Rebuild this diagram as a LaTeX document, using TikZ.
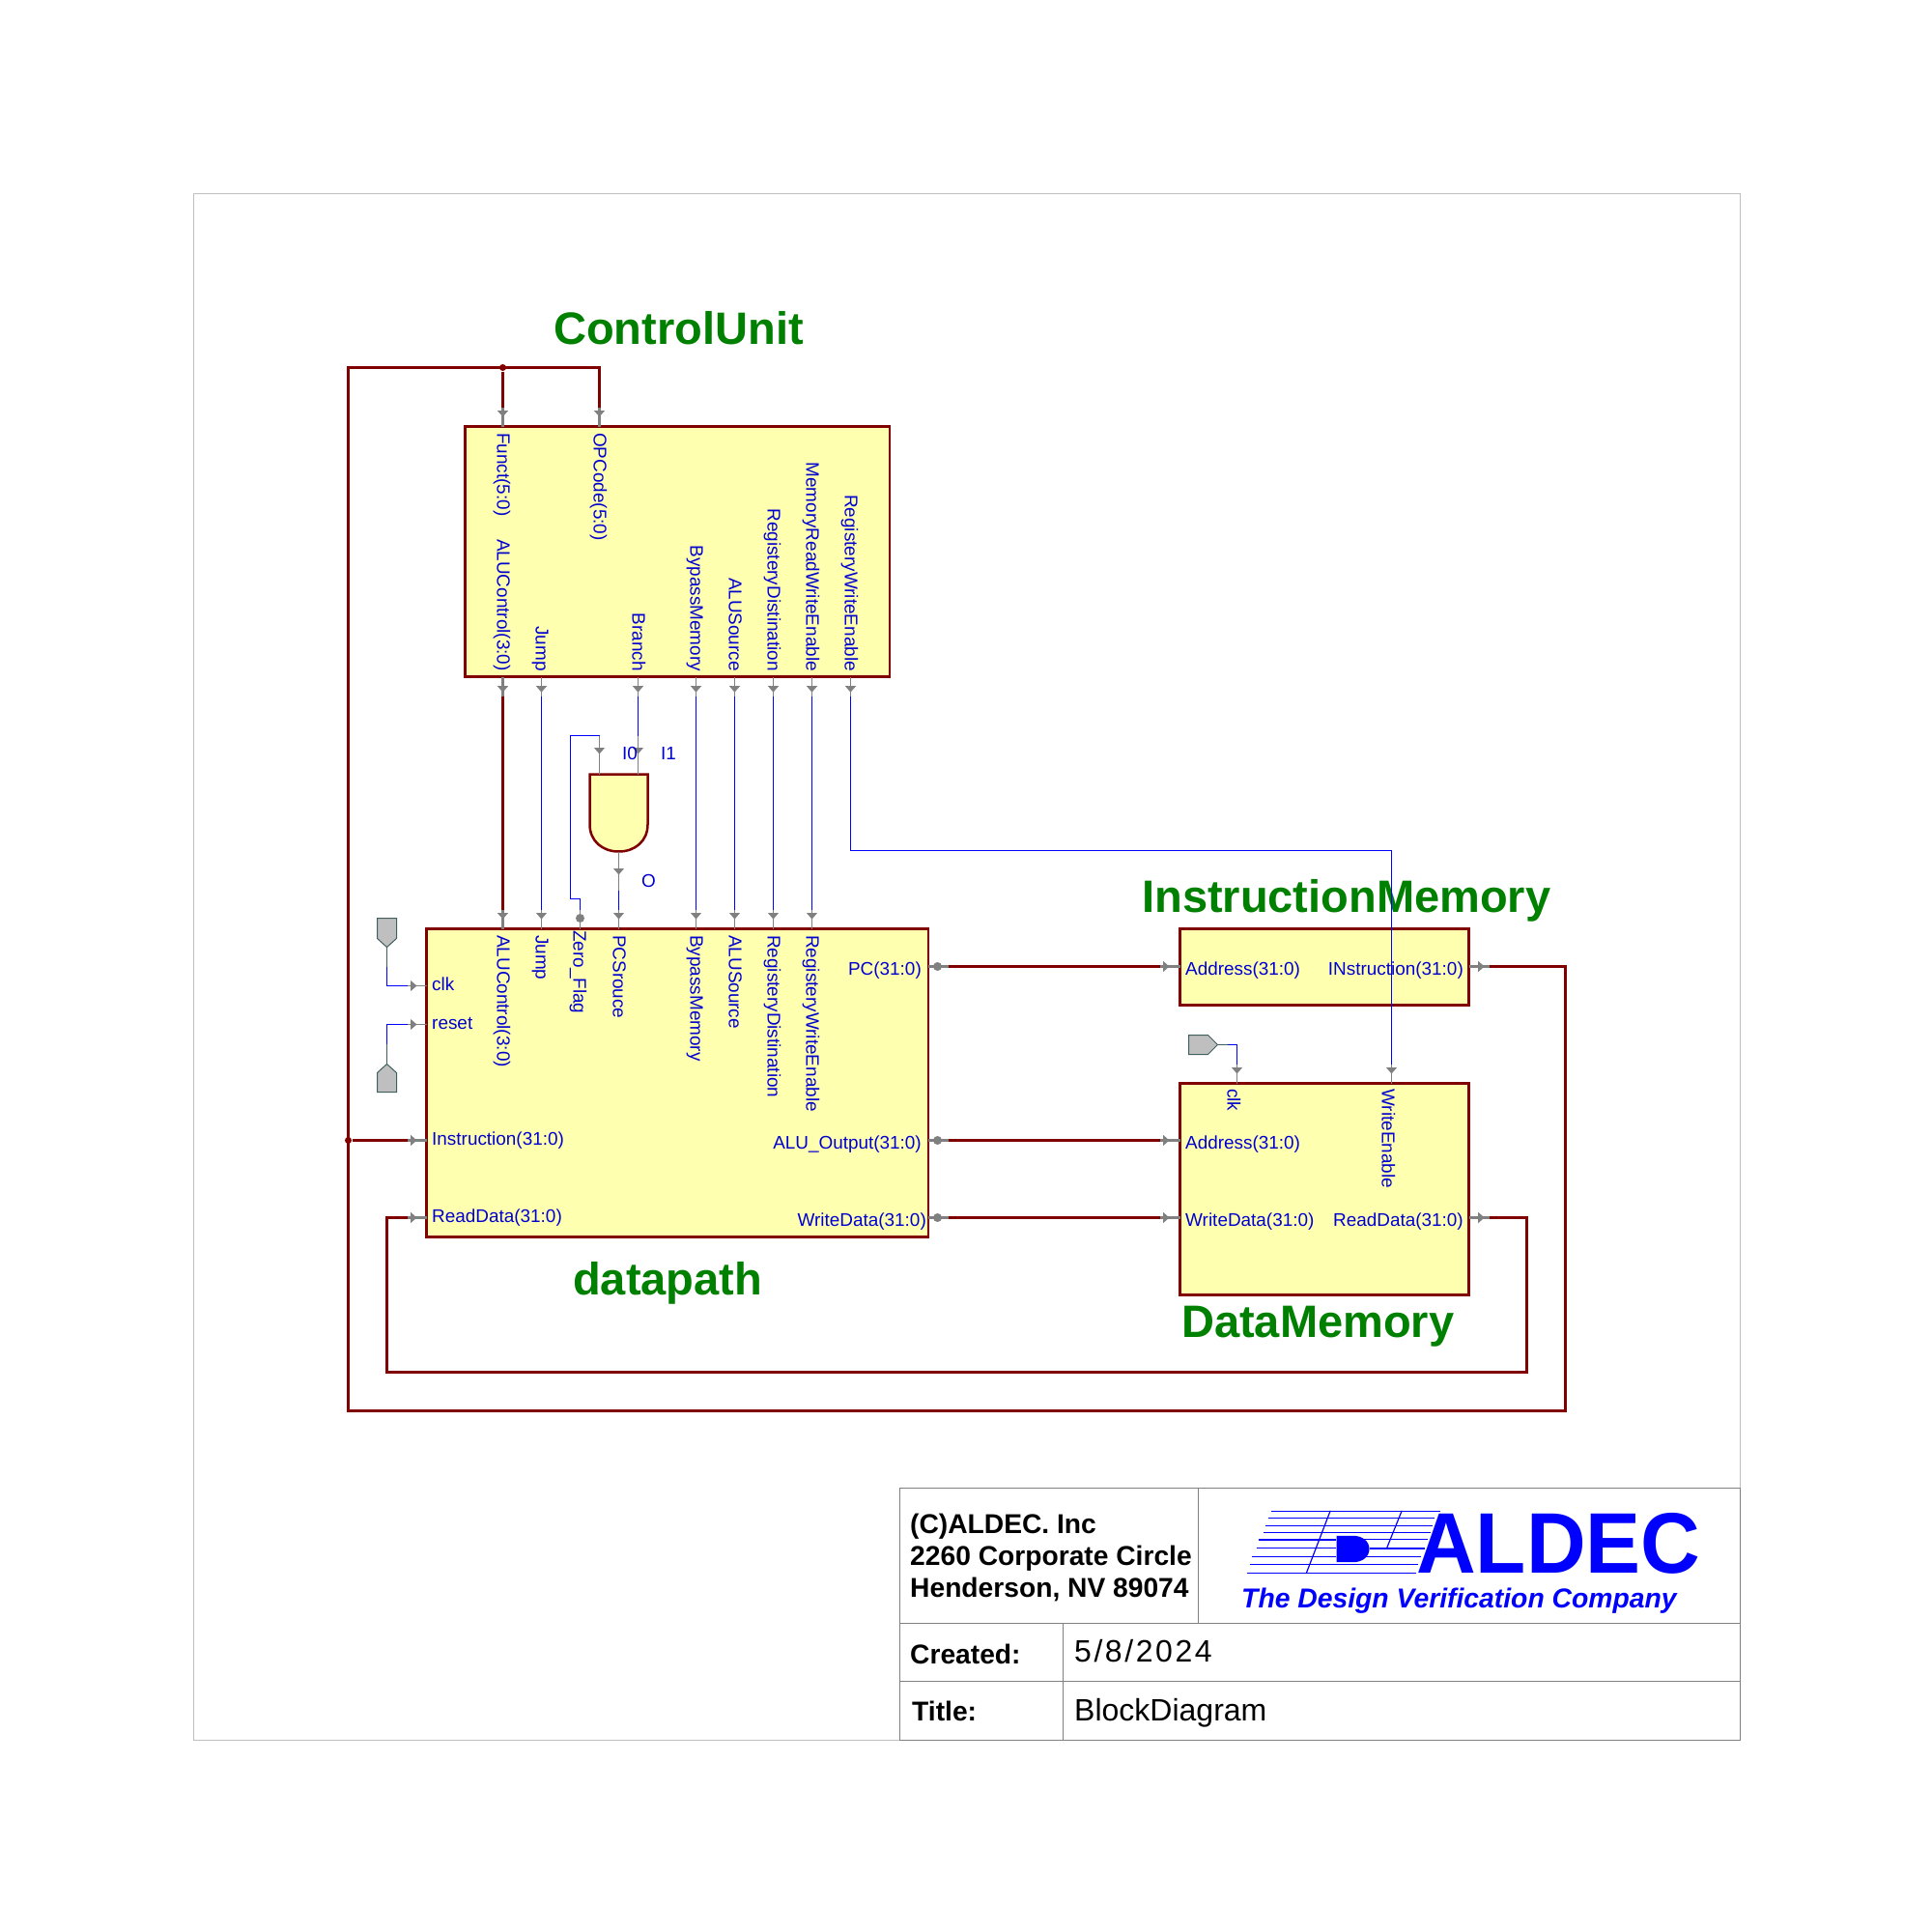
\documentclass[tikz,border=0pt]{standalone}
\usepackage{fontspec}
\setmainfont{Liberation Sans}
\newfontfamily\datefont[LetterSpace=8]{Liberation Sans}
\usetikzlibrary{arrows.meta}
\usetikzlibrary{decorations.markings}
\definecolor{wirered}{HTML}{800000}
\definecolor{wireblue}{HTML}{0000FF}
\definecolor{textblue}{HTML}{0000D0}
\definecolor{titlegreen}{HTML}{008000}
\definecolor{blockfill}{HTML}{FFFFB0}
\definecolor{pingray}{HTML}{808080}
\definecolor{symedge}{HTML}{406060}
\tikzset{block/.style={draw=wirered,fill=blockfill,line width=.025cm,
                       anchor=north west,inner sep=0pt,outer sep=0pt}}
\tikzset{stub/.style={draw=pingray,line width=.01cm,postaction={decorate},
                      decoration={markings,mark=at position #1 with
                      {\arrow[pingray]{Triangle[length=.065cm,width=.11cm]}}}},
         stub/.default=.1cm}
\tikzset{busstub/.style={stub=#1,line width=.03cm},busstub/.default=.1cm}
\tikzset{outstub/.style={stub=.16cm}}
\tikzset{busout/.style={busstub=.16cm}}
\tikzset{bus/.style={draw=wirered,line width=.03cm}}
\tikzset{wire/.style={draw=wireblue,line width=.01cm}}
\tikzset{portdot/.style={circle,fill=pingray,inner sep=0pt,minimum size=.09cm}}
\tikzset{joint/.style={circle,fill=wirered,inner sep=0pt,minimum size=.07cm}}
\tikzset{portlabel/.style={text=textblue,inner sep=0pt,text height=3.85pt,text depth=0pt,
                           font=\fontsize{5.38pt}{6pt}\selectfont}}
\tikzset{downlabel/.style={portlabel,rotate=-90}}
\tikzset{blocktitle/.style={text=titlegreen,inner sep=0pt,anchor=base west,
                            font=\fontsize{13.37pt}{15pt}\selectfont\bfseries}}
\tikzset{symbol/.style={draw=symedge,fill=black!25,line width=.01cm}}
\tikzset{infotext/.style={inner sep=0pt,anchor=base west,
                          font=\fontsize{8.02pt}{9pt}\selectfont\bfseries}}
\tikzset{infovalue/.style={inner sep=0pt,anchor=base west,
                           font=\fontsize{9.1pt}{10pt}\selectfont}}
\begin{document}
\begin{tikzpicture}
      [
      x=.01cm,y=-.01cm,
      ]
      \useasboundingbox (-.5,-.5) rectangle (1999.5,1999.5);

      % sheet frame
      \draw [black!25,line width=.01cm] (200,200) rectangle (1801,1801);

      % blocks
      \node [block,minimum width=4.39cm,minimum height=2.59cm] (CU) at (481,441) {};
      \node [block,minimum width=5.19cm,minimum height=3.19cm] (DP) at (441,961) {};
      \node [block,minimum width=2.99cm,minimum height=.79cm] (IM) at (1221,961) {};
      \node [block,minimum width=2.99cm,minimum height=2.19cm] (DM) at (1221,1121) {};

      % titles
      \node [blocktitle] (CUtitle) at (572,356) {ControlUnit};
      \node [blocktitle] (DPtitle) at (592,1340) {datapath};
      \node [blocktitle] (IMtitle) at (1181,944) {InstructionMemory};
      \node [blocktitle] (DMtitle) at (1222,1384) {DataMemory};

      % and gate
      \draw [draw=wirered,fill=blockfill,line width=.025cm]
      (610,801) -- (670,801) -- (670,853) .. controls (670,870) and (657,881) .. (640,881)
      .. controls (623,881) and (610,870) .. (610,853) -- cycle;
      \coordinate (gateI0) at (620,761);
      \coordinate (gateI1) at (660,761);
      \coordinate (gateO) at (640,921);
      \draw [stub=.19cm] (gateI0) -- (620,801);
      \draw [stub=.19cm] (gateI1) -- (660,801);
      \draw [stub=.24cm] (640,881) -- (gateO);
      \node [portlabel,anchor=west] (labelI0) at (643,779) {I0};
      \node [portlabel,anchor=west] (labelI1) at (683,779) {I1};
      \node [portlabel,anchor=west] (labelO) at (663,911) {O};

      % control unit, top pins
      \foreach \n/\x/\s/\l in
      {
      cuFunct/520/busstub/Funct(5:0),
      cuOPCode/620/busstub/OPCode(5:0)
      }
      {
      \coordinate (\n) at (\x,421);
      \draw [\s] (\n) -- (\n |- CU.north);
      \node [downlabel,anchor=west] (\n label) at (\x+1,447) {\l};
      }

      % control unit, bottom pins
      \foreach \n/\x/\s/\l in
      {
      cuALU/520/busout/ALUControl(3:0),
      cuJump/560/outstub/Jump,
      cuBranch/660/outstub/Branch,
      cuBypass/720/outstub/BypassMemory,
      cuSource/760/outstub/ALUSource,
      cuDist/800/outstub/RegisteryDistination,
      cuMem/840/outstub/MemoryReadWriteEnable,
      cuWrite/880/outstub/RegisteryWriteEnable
      }
      {
      \coordinate (\n) at (\x,720);
      \draw [\s] (\n |- CU.south) -- (\n);
      \node [downlabel,anchor=east] (\n label) at (\x+1,695) {\l};
      }

      % datapath, top pins
      \foreach \n/\x/\s/\l in
      {
      dpALU/520/busstub/ALUControl(3:0),
      dpJump/560/stub/Jump,
      dpPC/640/stub/PCSrouce,
      dpBypass/720/stub/BypassMemory,
      dpSource/760/stub/ALUSource,
      dpDist/800/stub/RegisteryDistination,
      dpWrite/840/stub/RegisteryWriteEnable
      }
      {
      \coordinate (\n) at (\x,941);
      \draw [\s] (\n) -- (\n |- DP.north);
      \node [downlabel,anchor=west] (\n label) at (\x+1,967) {\l};
      }
      \coordinate (dpZero) at (600,941);
      \draw [draw=pingray,line width=.01cm] (dpZero) -- (dpZero |- DP.north);
      \node [portdot] (dpZeroDot) at (600,950) {};
      \node [downlabel,anchor=west] (dpZero label) at (600,962) {Zero\_Flag};

      % datapath, left pins
      \foreach \n/\y/\s/\l in
      {
      dpClk/1020/stub/clk,
      dpReset/1060/stub/reset,
      dpInstr/1180/busstub/Instruction(31:0),
      dpRead/1260/busstub/ReadData(31:0)
      }
      {
      \coordinate (\n) at (421,\y);
      \draw [\s] (\n) -- (\n -| DP.west);
      \node [portlabel,anchor=west] (\n label) at (446,\y-2) {\l};
      }

      % datapath, right pins
      \foreach \n/\y/\e/\l in
      {
      dpOutPC/1000/954/PC(31:0),
      dpOutALU/1180/954/ALU\_Output(31:0),
      dpOutData/1260/959/WriteData(31:0)
      }
      {
      \coordinate (\n) at (981,\y);
      \draw [draw=pingray,line width=.03cm] (\n -| DP.east) -- (\n);
      \node [portdot] (\n dot) at (970,\y) {};
      \node [portlabel,anchor=east] (\n label) at (\e,\y+2) {\l};
      }

      % memories, left pins
      \foreach \n/\y/\l in
      {
      imAddr/1000/Address(31:0),
      dmAddr/1180/Address(31:0),
      dmData/1260/WriteData(31:0)
      }
      {
      \coordinate (\n) at (1200,\y);
      \draw [busstub] (\n) -- (\n -| IM.west);
      \node [portlabel,anchor=west] (\n label) at (1226,\y+2) {\l};
      }

      % memories, right pins
      \foreach \n/\y/\l in
      {
      imOut/1000/INstruction(31:0),
      dmOut/1260/ReadData(31:0)
      }
      {
      \coordinate (\n) at (1541,\y);
      \draw [busout] (\n -| IM.east) -- (\n);
      \node [portlabel,anchor=east] (\n label) at (1515,\y+2) {\l};
      }

      % data memory, top pins
      \foreach \n/\x/\l in
      {
      dmClk/1280/clk,
      dmWE/1440/WriteEnable
      }
      {
      \coordinate (\n) at (\x,1101);
      \draw [stub] (\n) -- (\n |- DM.north);
      \node [downlabel,anchor=west] (\n label) at (\x-3,1126) {\l};
      }

      % port symbols
      \coordinate (clkTip) at (400,980);
      \coordinate (resetTip) at (400,1101);
      \coordinate (memTip) at (1260,1081);
      \draw [symbol] (clkTip) -- (390,971) -- (390,950) -- (410,950) -- (410,971) -- cycle;
      \draw [symbol] (resetTip) -- (390,1110) -- (390,1130) -- (410,1130) -- (410,1110) -- cycle;
      \draw [symbol] (memTip) -- (1250,1071) -- (1230,1071) -- (1230,1091) -- (1250,1091) -- cycle;

      % single wires
      \foreach \a/\b in
      {
      cuJump/dpJump,cuBypass/dpBypass,cuSource/dpSource,cuDist/dpDist,cuMem/dpWrite,
      gateO/dpPC,cuBranch/gateI1%
      }
      {
      \draw [wire] (\a) -- (\b);
      }
      \draw [wire] (clkTip) |- (dpClk);
      \draw [wire] (resetTip) |- (dpReset);
      \draw [wire] (memTip) -| (dmClk);
      \draw [wire] (dpZero) -- ++(0,-11) -- ++(-10,0) |- (gateI0);
      \draw [wire] (cuWrite) -- ++(0,160) -| (dmWE);
      \draw [draw=symedge,line width=.01cm] (clkTip) -- ++(0,20);
      \draw [draw=symedge,line width=.01cm] (resetTip) -- ++(0,-21);
      \draw [draw=symedge,line width=.01cm] (memTip) -- ++(10,0);

      % buses
      \draw [bus] (cuALU) -- (dpALU);
      \draw [bus] (dpOutPC) -- (imAddr);
      \draw [bus] (dpOutALU) -- (dmAddr);
      \draw [bus] (dpOutData) -- (dmData);
      \draw [bus] (dmOut) -- ++(39,0) -- ++(0,160) -| (400,1260) -- (dpRead);
      \draw [bus] (imOut) -- ++(79,0) -- ++(0,460) -| (360,380) -| (cuOPCode);
      \node [joint] (jointTop) at (520,380) {};
      \node [joint] (jointLeft) at (360,1180) {};
      \draw [bus] (jointTop) -- (cuFunct);
      \draw [bus] (jointLeft) -- (dpInstr);

      % info block
      \draw [draw=pingray,line width=.01cm] (931,1540) rectangle (1801,1801);
      \draw [draw=pingray,line width=.01cm] (931,1680) -- (1801,1680);
      \draw [draw=pingray,line width=.01cm] (931,1740) -- (1801,1740);
      \draw [draw=pingray,line width=.01cm] (1240,1540) -- (1240,1680);
      \draw [draw=pingray,line width=.01cm] (1100,1680) -- (1100,1801);
      \node [infotext] (addr1) at (941,1587) {(C)ALDEC. Inc};
      \node [infotext] (addr2) at (941,1620) {2260 Corporate Circle};
      \node [infotext] (addr3) at (941,1653) {Henderson, NV 89074};
      \node [infotext] (createdKey) at (941,1722) {Created:};
      \node [infotext] (titleKey) at (943,1781) {Title:};
      \node [infovalue] (createdVal) at (1111,1720) {\datefont 5/8/2024};
      \node [infovalue] (titleVal) at (1111,1781) {BlockDiagram};

      % logo
      \foreach \y/\a/\b/\w in
      {
      1564/1315/1490/.008,1571.3/1312/1484/.008,1578.7/1309/1482/.008,1586/1307/1480/.008,
      1593.3/1302/1382/.016,1593.3/1410/1477/.008,1602.3/1300/1382/.008,1602.3/1417/1474/.016,
      1611/1295/1382/.016,1611/1412/1470/.008,1619.3/1293/1467/.008,1627.7/1290/1465/.008
      }
      {
      \draw [wireblue,line width=\w cm] (\a,\y) -- (\b,\y);
      }
      \draw [wireblue,line width=.012cm] (1376.7,1563.3) -- (1351.7,1628.3);
      \draw [wireblue,line width=.012cm] (1450.7,1563.3) -- (1435,1602.3);
      \fill [wireblue] (1383,1589.3) -- (1400,1589.3) .. controls (1410,1589.3) and (1417,1595) .. (1417,1603)
      .. controls (1417,1611) and (1410,1616.7) .. (1400,1616.7) -- (1383,1616.7) -- cycle;
      \node [inner sep=0pt,anchor=base west,text=wireblue,transform shape,xscale=.96,
      font=\fontsize{25.3pt}{27pt}\selectfont\bfseries] (logoName) at (1465,1628) {ALDEC};
      \node [inner sep=0pt,anchor=base west,text=wireblue,
      font=\fontsize{8.05pt}{9pt}\selectfont\bfseries\itshape] (logoTag) at (1284,1664) {The Design Verification Company};

\end{tikzpicture}
\end{document}
